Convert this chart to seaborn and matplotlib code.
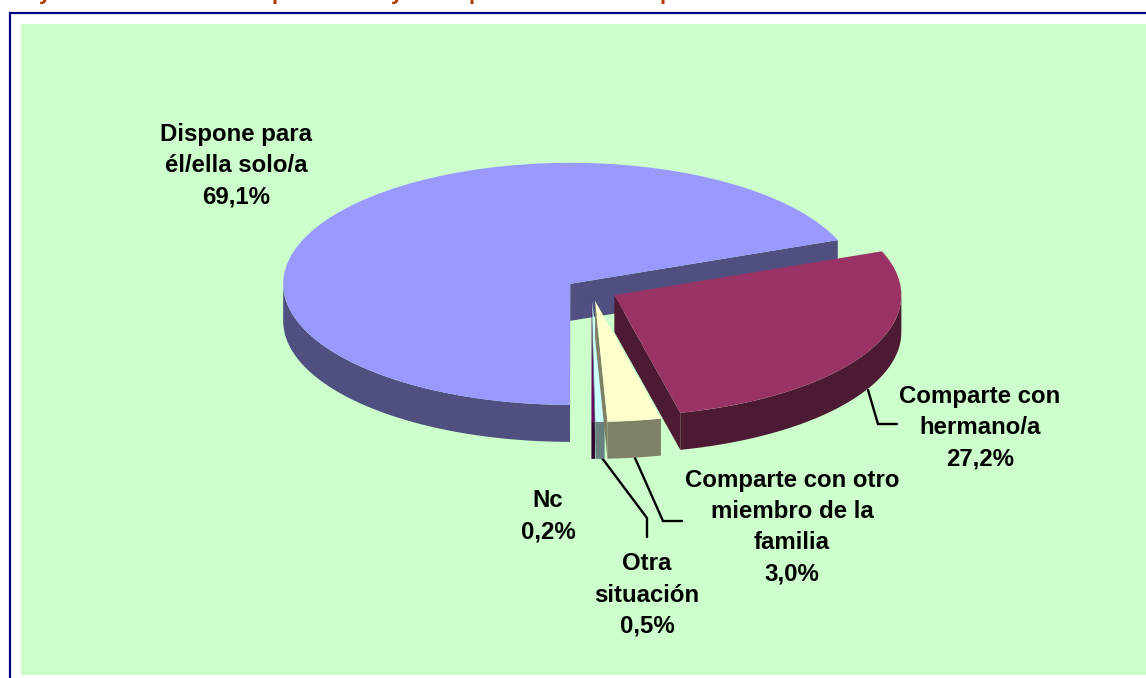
import numpy as np
import matplotlib
matplotlib.use('Agg')
import matplotlib.pyplot as plt
from matplotlib.patches import Rectangle
import seaborn as sns

# slices, anticlockwise starting from the right hand cut of the big slice
labels = ['Dispone para\nél/ella solo/a\n69,1%', 'Nc\n0,2%', 'Otra\nsituación\n0,5%',
          'Comparte con otro\nmiembro de la\nfamilia\n3,0%', 'Comparte con\nhermano/a\n27,2%']
values = [69.1, 0.2, 0.5, 3.0, 27.2]
top_colors = ['#9999FF', '#660066', '#CCFFFF', '#FFFFCC', '#993366']
side_colors = ['#4F4F80', '#330033', '#668080', '#808066', '#4D1A33']
label_pos = [(236, 166), (548, 516), (647, 595), (792, 527), (980, 428)]
# the title is cut off by the top of the image, only the descenders show
title_bits = [('y', 45), ('p', 278), ('y', 397), ('p', 475), ('p', 666)]

W, H = 1146, 678
CX, CY, RX, RY = 591.5, 290, 287, 121
DEPTH = 37 / RY


def px(x, y):
    # image pixels to data coordinates
    return (x - CX) / RX, (CY - y) / RY


sns.set_theme(style='white')
plt.rcParams['font.family'] = ['Liberation Sans', 'DejaVu Sans']

fig = plt.figure(figsize=(W / 100, H / 100), dpi=100, facecolor='white')
ax = fig.add_axes([0, 0, 1, 1])
wedges, _ = ax.pie(values, colors=top_colors, startangle=21.2, explode=[0.09] * 5,
                   wedgeprops={'linewidth': 0})
ax.set_aspect('auto')
ax.set_xlim(px(0, 0)[0], px(W, 0)[0])
ax.set_ylim(px(0, H)[1], px(0, 0)[1])
ax.axis('off')

# background panel and frame
(x0, y0), (x1, y1) = px(21, 675), px(W, 24)
ax.add_patch(Rectangle((x0, y0), x1 - x0, y1 - y0, fc='#CCFFCC', ec='none', zorder=0))
ax.plot(*zip(px(10, H + 5), px(10, 13), px(W + 5, 13)), color='#000080', lw=1.6, zorder=1,
        solid_joinstyle='miter')

# 3d sides of each slice
for i, w in enumerate(wedges):
    w.set_zorder(3 + 2 * i)
    cx, cy = w.center
    t1, t2 = w.theta1, w.theta2
    z = 2 + 2 * i
    for lo, hi in [(180, 360), (540, 720)]:
        a, b = max(t1, lo), min(t2, hi)
        if a < b:
            th = np.radians(np.linspace(a, b, 80))
            xs = cx + np.cos(th)
            ys = cy + np.sin(th)
            ax.fill(np.r_[xs, xs[::-1]], np.r_[ys, ys[::-1] - DEPTH], color=side_colors[i],
                    lw=0, zorder=z)
    # cut faces, only the ones turned towards the viewer
    for t, n in [(t1, t1 - 90), (t2, t2 + 90)]:
        if np.sin(np.radians(n)) < -1e-6:
            ex, ey = cx + np.cos(np.radians(t)), cy + np.sin(np.radians(t))
            ax.fill([cx, ex, ex, cx], [cy, ey, ey - DEPTH, cy - DEPTH], color=side_colors[i],
                    lw=0, zorder=z)

# labels
for lab, (lx, ly) in zip(labels, label_pos):
    ax.text(*px(lx, ly), lab, ha='center', va='center', ma='center', fontsize=17.3,
            fontweight='bold', color='black', linespacing=1.46, zorder=20)

# leader lines
leaders = [[(868, 390), (878, 424), (897, 424)],
           [(635, 458), (663, 521), (682, 521)],
           [(602, 458), (647, 518), (647, 537)]]
for pts in leaders:
    ax.plot(*zip(*[px(*p) for p in pts]), color='black', lw=1.7, zorder=1.5,
            solid_joinstyle='miter')

for ch, x in title_bits:
    ax.text(*px(x, -1), ch, ha='center', va='baseline', fontsize=16, fontweight='bold',
            color='#B03A00', zorder=20)

fig.savefig('out.png', dpi=100, facecolor='white')
